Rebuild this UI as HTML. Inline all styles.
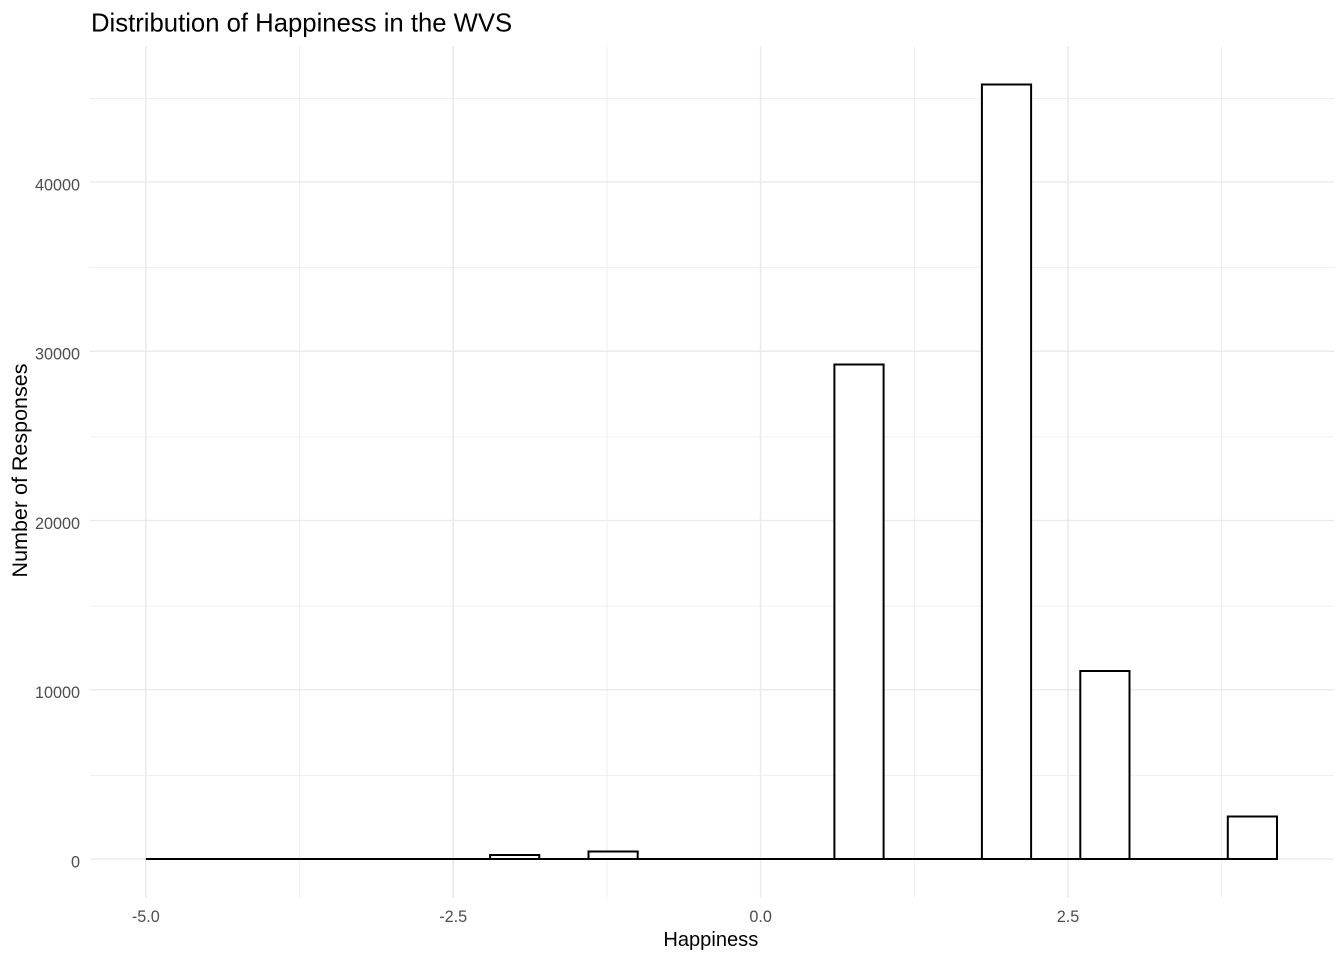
<!DOCTYPE html>
<html>
<head>
<meta charset="utf-8">
<style>
  html, body { margin: 0; padding: 0; background: #ffffff; }
  svg { display: block; }
  text { font-family: "Liberation Sans", Arial, sans-serif; }
</style>
</head>
<body>
<svg width="1344" height="960" viewBox="0 0 1344 960" xmlns="http://www.w3.org/2000/svg">
  <rect x="0" y="0" width="1344" height="960" fill="#ffffff"/>

  <!-- minor grid -->
  <g stroke="#EBEBEB" stroke-width="0.8" fill="none">
    <line x1="90" y1="775.4" x2="1334" y2="775.4"/>
    <line x1="90" y1="606.1" x2="1334" y2="606.1"/>
    <line x1="90" y1="436.9" x2="1334" y2="436.9"/>
    <line x1="90" y1="267.6" x2="1334" y2="267.6"/>
    <line x1="90" y1="98.4" x2="1334" y2="98.4"/>
    <line x1="299.5" y1="46" x2="299.5" y2="898"/>
    <line x1="607.0" y1="46" x2="607.0" y2="898"/>
    <line x1="914.3" y1="46" x2="914.3" y2="898"/>
    <line x1="1221.7" y1="46" x2="1221.7" y2="898"/>
  </g>
  <!-- major grid -->
  <g stroke="#EBEBEB" stroke-width="1.6" fill="none">
    <line x1="90" y1="859" x2="1334" y2="859"/>
    <line x1="90" y1="689.75" x2="1334" y2="689.75"/>
    <line x1="90" y1="520.5" x2="1334" y2="520.5"/>
    <line x1="90" y1="351.25" x2="1334" y2="351.25"/>
    <line x1="90" y1="182" x2="1334" y2="182"/>
    <line x1="145.8" y1="46" x2="145.8" y2="898"/>
    <line x1="453.2" y1="46" x2="453.2" y2="898"/>
    <line x1="760.6" y1="46" x2="760.6" y2="898"/>
    <line x1="1068" y1="46" x2="1068" y2="898"/>
  </g>

  <!-- histogram baseline (zero-height bins) -->
  <line x1="145.8" y1="859" x2="1277" y2="859" stroke="#000" stroke-width="2"/>

  <!-- bars -->
  <g fill="#ffffff" stroke="#000" stroke-width="2" stroke-linejoin="miter">
    <rect x="490.1" y="855" width="49.2" height="4"/>
    <rect x="588.5" y="851.5" width="49.2" height="7.5"/>
    <rect x="834.4" y="364.5" width="49.2" height="494.5"/>
    <rect x="981.9" y="84.5" width="49.2" height="774.5"/>
    <rect x="1080.3" y="671" width="49.2" height="188"/>
    <rect x="1227.8" y="816.5" width="49.2" height="42.5"/>
  </g>

  <!-- y tick labels -->
  <g fill="#4D4D4D" font-size="16.2" text-anchor="end">
    <text x="80" y="867.5">0</text>
    <text x="80" y="698.2">10000</text>
    <text x="80" y="529">20000</text>
    <text x="80" y="359.7">30000</text>
    <text x="80" y="190.5">40000</text>
  </g>

  <!-- x tick labels -->
  <g fill="#4D4D4D" font-size="16.2" text-anchor="middle">
    <text x="145.8" y="922">-5.0</text>
    <text x="453.2" y="922">-2.5</text>
    <text x="760.6" y="922">0.0</text>
    <text x="1068" y="922">2.5</text>
  </g>

  <!-- axis titles -->
  <text x="710.8" y="946" font-size="20.1" text-anchor="middle" fill="#000">Happiness</text>
  <text transform="translate(27,470.5) rotate(-90)" font-size="21.5" text-anchor="middle" fill="#000">Number of Responses</text>

  <!-- plot title -->
  <text x="91" y="31.5" font-size="25.7" fill="#000">Distribution of Happiness in the WVS</text>
</svg>
</body>
</html>
